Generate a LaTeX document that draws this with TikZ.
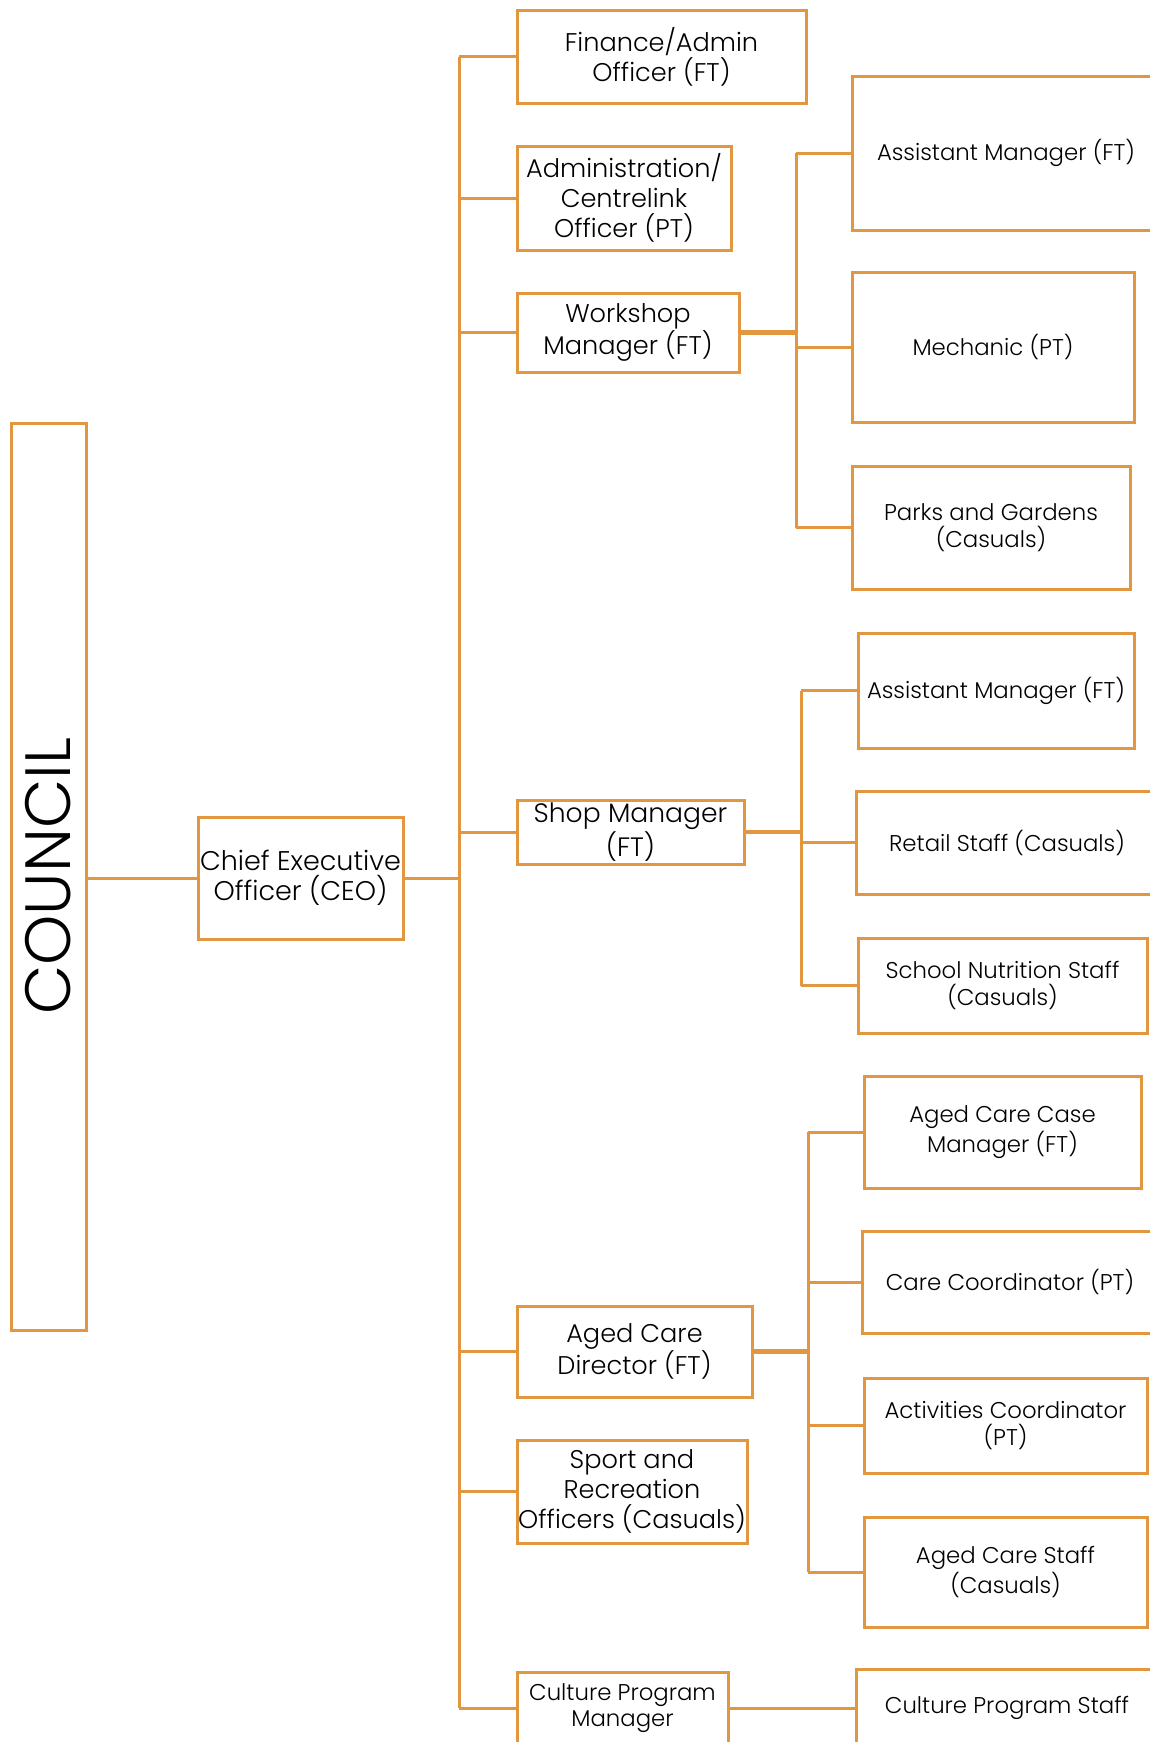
\documentclass[tikz,border=0pt]{standalone}
\usepackage{fontspec}
\setmainfont{Poppins Light}
\definecolor{org}{RGB}{226,150,64}
\begin{document}
\begin{tikzpicture}[x=0.5pt,y=-0.5pt,
  dims/.style 2 args={minimum width={#1*0.5pt}, minimum height={#2*0.5pt}},
  box/.style={draw=org, line width=1.5pt, inner sep=0pt, align=center, text=black},
  lbox/.style={box, font=\fontsize{12.8}{15}\selectfont},
  rbox/.style={box, font=\fontsize{11.4}{13.2}\selectfont},
  conn/.style={draw=org, line width=1.5pt},
  hconn/.style={draw=org, line width=2.2pt}
]
\useasboundingbox (0,0) rectangle (1150,1742);
\clip (0,0) rectangle (1150,1742);
% council and CEO
\node[box, rotate=90, dims={907}{75}, font=\fontsize{32}{38}\selectfont] (council) at (48.5,876.5) {COUNCIL};
\node[box, dims={205}{122}, font=\fontsize{13.5}{15}\selectfont] (ceo) at (300.5,878) {Chief Executive\\Officer (CEO)};
% first level
\node[lbox, dims={289}{93}] (fin) at (661.5,56.5) {Finance/Admin\\Officer (FT)};
\node[lbox, dims={214}{104}] (adm) at (624,198) {Administration/\\Centrelink\\Officer (PT)};
\node[lbox, dims={222}{79}] (wsm) at (628,332.5) {Workshop\\Manager (FT)};
\node[box, dims={227}{64}, font=\fontsize{13.3}{15}\selectfont] (shop) at (630.5,832) {Shop Manager\\(FT)};
\node[lbox, dims={235}{91}] (acd) at (634.5,1351.5) {Aged Care\\Director (FT)};
\node[lbox, dims={230}{103}] (spr) at (632,1491.5) {Sport and\\Recreation\\Officers (Casuals)};
\node[rbox, dims={211}{72}] (cpm) at (622.5,1708) {Culture Program\\Manager};
% workshop group
\node[rbox, dims={308}{154}] (am1) at (1006,153) {Assistant Manager (FT)};
\node[rbox, dims={282}{150}] (mech) at (993,347) {Mechanic (PT)};
\node[rbox, dims={278}{123}] (parks) at (991,527.5) {Parks and Gardens\\(Casuals)};
% shop group
\node[rbox, dims={276}{115}] (am2) at (996,690.5) {Assistant Manager (FT)};
\node[rbox, dims={302}{103}] (retail) at (1007,842.5) {Retail Staff (Casuals)};
\node[rbox, dims={289}{95}] (school) at (1002.5,985.5) {School Nutrition Staff\\(Casuals)};
% aged care group
\node[rbox, dims={277}{112}] (acm) at (1002.5,1132) {Aged Care Case\\Manager (FT)};
\node[rbox, dims={296}{102}] (cc) at (1010,1282) {Care Coordinator (PT)};
\node[rbox, dims={283}{95}] (act) at (1005.5,1425.5) {Activities Coordinator\\(PT)};
\node[rbox, dims={283}{110}] (acs) at (1005.5,1572) {Aged Care Staff\\(Casuals)};
% culture
\node[rbox, dims={302}{78}] (cps) at (1007,1708) {Culture Program Staff};
% trunk coordinates
\coordinate (T) at (459,0);
\coordinate (S1) at (796,0);
\coordinate (S2) at (801,0);
\coordinate (S3) at (808,0);
% connectors
\draw[conn] (ceo.west) -- (ceo.west -| council.south);
\draw[conn] (ceo.east) -- (ceo.east -| T);
\draw[conn] (fin.west -| T) -- (cpm.west -| T);
\foreach \n in {fin,adm,wsm,shop,acd,spr,cpm}
  \draw[conn] (\n.west) -- (\n.west -| T);
\draw[hconn] (wsm.east) -- (wsm.east -| S1);
\draw[conn] (am1.west -| S1) -- (parks.west -| S1);
\foreach \n in {am1,mech,parks}
  \draw[conn] (\n.west) -- (\n.west -| S1);
\draw[hconn] (shop.east) -- (shop.east -| S2);
\draw[conn] (am2.west -| S2) -- (school.west -| S2);
\foreach \n in {am2,retail,school}
  \draw[conn] (\n.west) -- (\n.west -| S2);
\draw[hconn] (acd.east) -- (acd.east -| S3);
\draw[conn] (acm.west -| S3) -- (acs.west -| S3);
\foreach \n in {acm,cc,act,acs}
  \draw[conn] (\n.west) -- (\n.west -| S3);
\draw[conn] (cpm.east) -- (cps.west);
\end{tikzpicture}
\end{document}
